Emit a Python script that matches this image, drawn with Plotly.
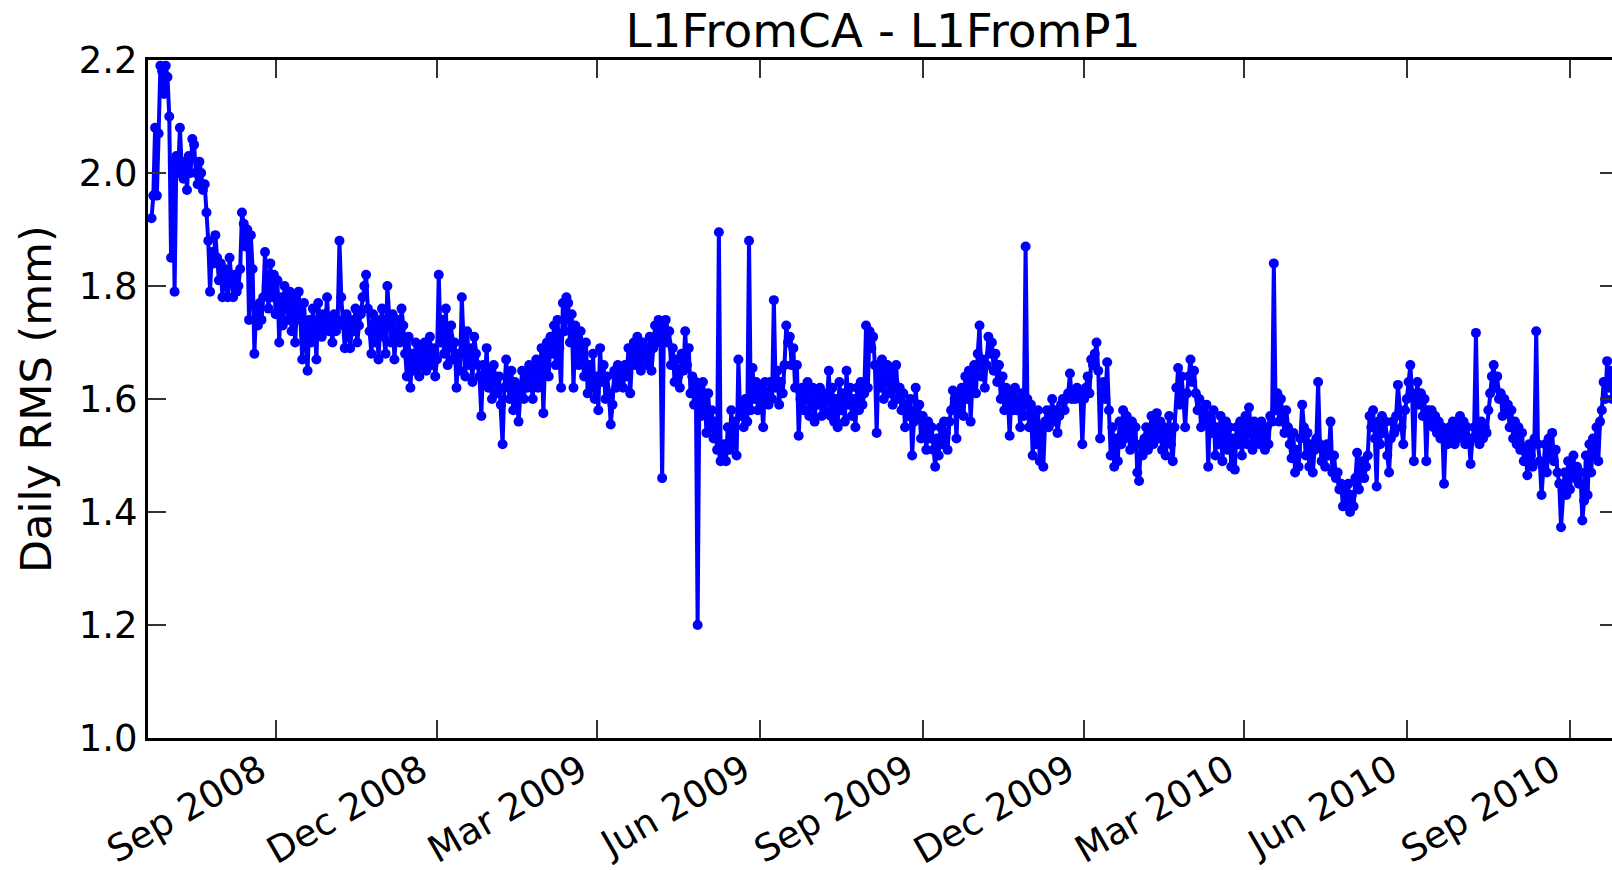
import pandas as pd
import plotly.graph_objects as go

# ---- data (daily RMS, mm) ----
seg_starts = ["2008-06-23", "2008-09-10", "2008-11-28", "2009-02-19", "2009-05-11",
              "2009-08-02", "2009-10-23", "2010-01-13", "2010-04-05", "2010-06-24"]

rms_2008_a = [1.92,1.96,2.08,1.96,2.07,2.19,2.18,2.14,2.19,2.17,
              2.10,1.85,2.02,1.79,2.03,2.00,2.08,2.01,1.99,2.02,
              1.97,2.03,2.00,2.06,2.05,2.00,1.98,2.02,2.00,1.97,
              1.98,1.93,1.88,1.79,1.86,1.84,1.89,1.85,1.81,1.84,
              1.78,1.83,1.80,1.78,1.85,1.81,1.78,1.82,1.79,1.80,
              1.83,1.93,1.91,1.87,1.90,1.74,1.89,1.83,1.68,1.76,
              1.73,1.77,1.74,1.78,1.86,1.80,1.76,1.84,1.78,1.82,
              1.75,1.81,1.70,1.78,1.73,1.80,1.76,1.74,1.79]
rms_2008_b = [1.72,1.78,1.70,1.76,1.79,1.74,1.67,1.77,1.72,1.65,
              1.74,1.70,1.76,1.73,1.67,1.77,1.74,1.71,1.75,1.73,
              1.78,1.72,1.74,1.70,1.75,1.72,1.74,1.88,1.78,1.73,
              1.69,1.75,1.71,1.69,1.74,1.72,1.76,1.70,1.73,1.75,
              1.78,1.80,1.82,1.76,1.72,1.68,1.75,1.70,1.74,1.67,
              1.73,1.76,1.71,1.68,1.80,1.74,1.70,1.75,1.67,1.72,
              1.74,1.70,1.76,1.73,1.68,1.64,1.71,1.62,1.68,1.65,
              1.70,1.67,1.64,1.69,1.66,1.70,1.65,1.68,1.71]
rms_2008_c = [1.66,1.69,1.64,1.67,1.82,1.70,1.74,1.68,1.76,1.66,
              1.71,1.73,1.67,1.70,1.62,1.68,1.65,1.78,1.70,1.64,
              1.72,1.66,1.69,1.63,1.71,1.68,1.66,1.64,1.57,1.66,
              1.63,1.69,1.62,1.65,1.60,1.66,1.63,1.61,1.64,1.59,
              1.52,1.62,1.67,1.63,1.60,1.65,1.58,1.63,1.61,1.56,
              1.62,1.65,1.60,1.64,1.62,1.66,1.63,1.60,1.65,1.67,
              1.62,1.66,1.69,1.575,1.67,1.70,1.64,1.71,1.68,1.73,
              1.66,1.74,1.69,1.62,1.77,1.72,1.78,1.77,1.70,1.75,
              1.62,1.73,1.70]
rms_2009_a = [1.66,1.72,1.68,1.64,1.70,1.61,1.66,1.62,1.68,1.60,
              1.64,1.58,1.69,1.63,1.66,1.60,1.64,1.61,1.555,1.59,
              1.65,1.62,1.66,1.63,1.65,1.62,1.66,1.64,1.69,1.61,
              1.67,1.70,1.66,1.71,1.68,1.65,1.70,1.67,1.69,1.66,
              1.71,1.65,1.69,1.73,1.70,1.74,1.72,1.46,1.73,1.74,
              1.70,1.72,1.66,1.69,1.63,1.67,1.64,1.62,1.68,1.65,
              1.72,1.66,1.69,1.61,1.64,1.59,1.63,1.20,1.62,1.57,
              1.63,1.60,1.54,1.61,1.55,1.58,1.53,1.56,1.51,1.895,
              1.49]
rms_2009_b = [1.50,1.52,1.49,1.55,1.51,1.58,1.52,1.56,1.50,1.67,
              1.57,1.59,1.55,1.60,1.56,1.88,1.58,1.655,1.60,1.63,
              1.58,1.62,1.60,1.55,1.63,1.61,1.59,1.63,1.60,1.775,
              1.62,1.65,1.59,1.63,1.61,1.66,1.73,1.70,1.71,1.66,
              1.69,1.62,1.66,1.535,1.60,1.62,1.58,1.61,1.63,1.57,
              1.60,1.62,1.56,1.61,1.59,1.62,1.57,1.61,1.58,1.60,
              1.65,1.57,1.62,1.56,1.60,1.55,1.63,1.58,1.61,1.56,
              1.65,1.59,1.62,1.57,1.60,1.55,1.62,1.58,1.63,1.59,
              1.61,1.73,1.62]
rms_2009_c = [1.72,1.69,1.71,1.66,1.54,1.66,1.62,1.67,1.60,1.64,
              1.66,1.61,1.65,1.59,1.63,1.66,1.60,1.62,1.58,1.61,
              1.55,1.59,1.57,1.60,1.50,1.56,1.62,1.57,1.59,1.53,
              1.57,1.55,1.51,1.56,1.53,1.55,1.51,1.48,1.53,1.50,
              1.55,1.52,1.56,1.54,1.51,1.56,1.58,1.615,1.60,1.53,
              1.61,1.58,1.62,1.57,1.64,1.60,1.65,1.56,1.63,1.66,
              1.61,1.68,1.73,1.64,1.67,1.62,1.66,1.71,1.68,1.70,
              1.65,1.68,1.63,1.66,1.60,1.64,1.58,1.62,1.60,1.535,
              1.61,1.58]
rms_2009_d = [1.62,1.58,1.60,1.55,1.61,1.57,1.87,1.60,1.55,1.59,
              1.50,1.57,1.52,1.58,1.49,1.55,1.48,1.56,1.58,1.55,
              1.57,1.60,1.56,1.58,1.54,1.57,1.59,1.60,1.58,1.60,
              1.61,1.645,1.60,1.61,1.60,1.62,1.61,1.60,1.52,1.60,
              1.62,1.64,1.61,1.67,1.66,1.68,1.70,1.65,1.53,1.61,
              1.63,1.60,1.665,1.58,1.50,1.55,1.48,1.53,1.49,1.56,
              1.52,1.58,1.53,1.57,1.55,1.51,1.56,1.52,1.55,1.47,
              1.455,1.52,1.50,1.53,1.55,1.51,1.54,1.57,1.52,1.55,
              1.575,1.53]
rms_2010_a = [1.56,1.51,1.55,1.50,1.54,1.57,1.52,1.49,1.55,1.62,
              1.655,1.59,1.64,1.60,1.55,1.61,1.64,1.67,1.63,1.65,
              1.61,1.58,1.60,1.55,1.58,1.56,1.59,1.48,1.57,1.54,
              1.58,1.50,1.55,1.52,1.57,1.49,1.54,1.56,1.51,1.55,
              1.48,1.53,1.475,1.55,1.52,1.56,1.50,1.54,1.57,1.52,
              1.585,1.55,1.51,1.56,1.53,1.55,1.52,1.56,1.54,1.51,
              1.55,1.52,1.57,1.56,1.84,1.58,1.61,1.56,1.60,1.57,
              1.54,1.58,1.55,1.52,1.495,1.54,1.47,1.51,1.48,1.53,
              1.59,1.55]
rms_2010_b = [1.50,1.54,1.48,1.52,1.47,1.51,1.53,1.63,1.52,1.49,
              1.51,1.48,1.52,1.50,1.56,1.47,1.50,1.46,1.47,1.44,
              1.45,1.41,1.44,1.42,1.45,1.40,1.43,1.41,1.46,1.505,
              1.44,1.47,1.49,1.46,1.48,1.50,1.57,1.55,1.58,1.53,
              1.445,1.56,1.52,1.57,1.54,1.56,1.50,1.47,1.53,1.56,
              1.54,1.57,1.625,1.58,1.55,1.52,1.58,1.60,1.63,1.66,
              1.61,1.49,1.60,1.63,1.59,1.61,1.57,1.60,1.49,1.58,
              1.56,1.58,1.55,1.57,1.54,1.56,1.53,1.55,1.45,1.54]
rms_2010_c = [1.52,1.55,1.53,1.56,1.52,1.55,1.53,1.57,1.54,1.56,
              1.52,1.55,1.53,1.485,1.53,1.55,1.717,1.54,1.52,1.56,
              1.53,1.55,1.54,1.58,1.61,1.64,1.66,1.62,1.64,1.60,
              1.61,1.57,1.60,1.58,1.59,1.55,1.58,1.53,1.56,1.52,
              1.55,1.51,1.54,1.49,1.51,1.465,1.52,1.50,1.48,1.53,
              1.72,1.52,1.49,1.43,1.48,1.52,1.47,1.53,1.50,1.54,
              1.49,1.51,1.47,1.45,1.373,1.44,1.47,1.43,1.49,1.44,
              1.47,1.50,1.46,1.48,1.45,1.47,1.385,1.42,1.50,1.43,
              1.52,1.47,1.53,1.50,1.55,1.49,1.56,1.58,1.63,1.60,
              1.667,1.62,1.65,1.60]

tick_dates = ["2008-09-01", "2008-12-01", "2009-03-01", "2009-06-01", "2009-09-01",
              "2009-12-01", "2010-03-01", "2010-06-01", "2010-09-01"]
tick_labels = ["Sep 2008", "Dec 2008", "Mar 2009", "Jun 2009", "Sep 2009",
               "Dec 2009", "Mar 2010", "Jun 2010", "Sep 2010"]
y_ticks = [1.0, 1.2, 1.4, 1.6, 1.8, 2.0, 2.2]

title_text = "L1FromCA - L1FromP1"
ylabel_text = "Daily RMS (mm)"

# ---- assemble ----
segments = [rms_2008_a, rms_2008_b, rms_2008_c, rms_2009_a, rms_2009_b,
            rms_2009_c, rms_2009_d, rms_2010_a, rms_2010_b, rms_2010_c]
dates, values = [], []
for start, vals in zip(seg_starts, segments):
    dates.extend(pd.date_range(start, periods=len(vals), freq="D"))
    values.extend(vals)

FONT = "DejaVu Sans"
W, H = 1620, 870
L, R, T, B = 148, 2, 60, 132

fig = go.Figure()
fig.add_trace(go.Scatter(
    x=dates, y=values, mode="lines+markers",
    line=dict(color="#0000ff", width=4),
    marker=dict(color="#0000ff", size=10),
    showlegend=False,
))

fig.update_layout(
    template="none",
    width=W, height=H,
    margin=dict(l=L, r=R, t=T, b=B, pad=0),
    paper_bgcolor="white", plot_bgcolor="white",
    font=dict(family=FONT, color="black", size=37),
    title=dict(text=title_text, font=dict(family=FONT, size=47, color="black"),
               x=0.5, xref="paper", xanchor="center",
               y=1 - 31 / H, yref="container", yanchor="middle"),
    xaxis=dict(
        type="date", automargin=False,
        range=["2008-06-21", "2010-09-28 03:00"],
        tickvals=tick_dates, ticktext=tick_labels, tickangle=-30,
        ticklabelshift=-16, ticklabelstandoff=-7,
        ticks="inside", ticklen=18, tickwidth=1.5, tickcolor="#333",
        showline=True, linewidth=3, linecolor="black", mirror="ticks",
        showgrid=False, zeroline=False,
        tickfont=dict(family=FONT, size=37, color="black"),
    ),
    yaxis=dict(
        automargin=False,
        range=[1.0, 2.2], tickvals=y_ticks, tickformat=".1f",
        ticks="inside", ticklen=18, tickwidth=1.5, tickcolor="#333",
        showline=True, linewidth=3, linecolor="black", mirror="ticks",
        showgrid=False, zeroline=False,
        tickfont=dict(family=FONT, size=37, color="black"),
    ),
    annotations=[dict(
        text=ylabel_text, textangle=-90, showarrow=False,
        xref="paper", yref="paper", x=(36 - L) / (W - L - R), y=0.5,
        xanchor="center", yanchor="middle",
        font=dict(family=FONT, size=43, color="black"),
    )],
)

fig.write_html("out.html", config={"displayModeBar": False}, post_script=(
    "document.body.style.margin='0';"
    "document.body.style.overflow='hidden';"
))
